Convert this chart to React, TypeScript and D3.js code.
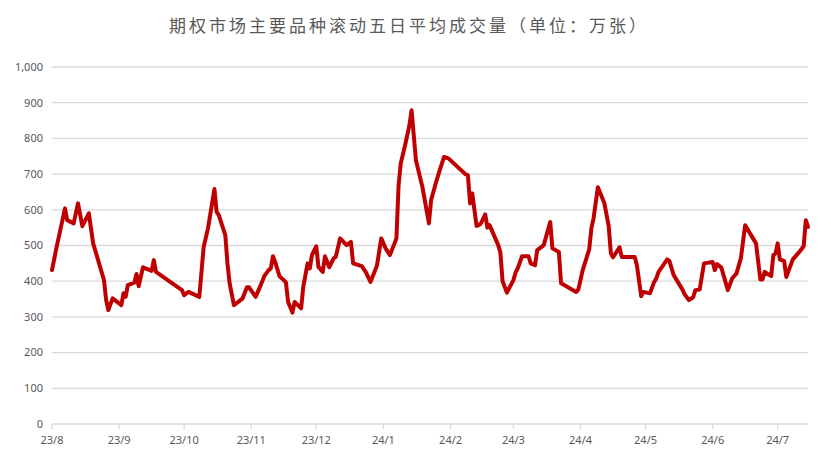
import React from "react";
import * as d3 from "d3";

const title = "期权市场主要品种滚动五日平均成交量（单位：万张）";

const dates: string[] = [
  "2023-08-01","2023-08-03","2023-08-07","2023-08-08","2023-08-11","2023-08-13","2023-08-15","2023-08-18","2023-08-20","2023-08-25",
  "2023-08-26","2023-08-27","2023-08-29","2023-09-02","2023-09-03","2023-09-04","2023-09-05","2023-09-08","2023-09-09","2023-09-10",
  "2023-09-12","2023-09-16","2023-09-17","2023-09-18","2023-09-30","2023-10-01","2023-10-03","2023-10-08","2023-10-10","2023-10-12",
  "2023-10-15","2023-10-16","2023-10-17","2023-10-20","2023-10-21","2023-10-22","2023-10-24","2023-10-26","2023-10-28","2023-10-30",
  "2023-10-31","2023-11-03","2023-11-05","2023-11-07","2023-11-09","2023-11-10","2023-11-11","2023-11-12","2023-11-14","2023-11-16",
  "2023-11-17","2023-11-18","2023-11-20","2023-11-21","2023-11-24","2023-11-25","2023-11-27","2023-11-28","2023-11-29","2023-12-01",
  "2023-12-02","2023-12-04","2023-12-05","2023-12-07","2023-12-09","2023-12-10","2023-12-12","2023-12-15","2023-12-17","2023-12-18",
  "2023-12-22","2023-12-24","2023-12-26","2023-12-29","2023-12-31","2024-01-02","2024-01-04","2024-01-07","2024-01-08","2024-01-09",
  "2024-01-11","2024-01-13","2024-01-14","2024-01-15","2024-01-16","2024-01-19","2024-01-22","2024-01-23","2024-01-25","2024-01-27",
  "2024-01-29","2024-01-31","2024-02-08","2024-02-09","2024-02-10","2024-02-11","2024-02-13","2024-02-14","2024-02-15","2024-02-17",
  "2024-02-18","2024-02-19","2024-02-21","2024-02-23","2024-02-24","2024-02-25","2024-02-27","2024-03-01","2024-03-02","2024-03-03",
  "2024-03-05","2024-03-08","2024-03-09","2024-03-11","2024-03-12","2024-03-14","2024-03-15","2024-03-18","2024-03-19","2024-03-22",
  "2024-03-23","2024-03-30","2024-03-31","2024-04-02","2024-04-05","2024-04-06","2024-04-07","2024-04-09","2024-04-12","2024-04-14",
  "2024-04-15","2024-04-16","2024-04-19","2024-04-20","2024-04-26","2024-04-27","2024-04-29","2024-04-30","2024-05-03","2024-05-05",
  "2024-05-06","2024-05-07","2024-05-11","2024-05-12","2024-05-14","2024-05-18","2024-05-19","2024-05-21","2024-05-23","2024-05-24",
  "2024-05-26","2024-05-28","2024-06-01","2024-06-02","2024-06-03","2024-06-05","2024-06-08","2024-06-10","2024-06-12","2024-06-14",
  "2024-06-16","2024-06-21","2024-06-23","2024-06-24","2024-06-25","2024-06-28","2024-06-29","2024-06-30","2024-07-01","2024-07-02",
  "2024-07-04","2024-07-05","2024-07-08","2024-07-11","2024-07-13","2024-07-14","2024-07-15"
];

const values: number[] = [
  431,492,604,571,562,618,554,590,506,403,
  347,319,352,333,366,356,389,396,420,386,
  439,429,459,426,375,361,370,356,495,548,
  658,594,585,529,450,394,333,342,352,383,
  383,356,384,414,431,436,470,454,414,403,
  396,342,312,342,324,384,450,436,473,498,
  440,426,470,439,464,468,520,501,510,450,
  442,424,398,443,520,492,473,520,669,730,
  781,837,879,809,739,664,562,627,671,711,
  748,744,699,697,618,646,555,557,562,587,
  550,557,529,501,480,400,368,403,424,436,
  470,470,450,445,487,496,501,566,492,482,
  394,370,377,431,489,548,576,663,618,554,
  478,467,495,468,468,445,358,370,366,398,
  408,426,461,457,417,377,364,347,355,375,
  377,450,454,431,448,438,375,408,422,464,
  557,506,405,405,426,414,473,478,506,461,
  456,412,461,482,498,571,552
];

const yTicks: number[] = [0, 100, 200, 300, 400, 500, 600, 700, 800, 900, 1000];
const xTickDates: string[] = [
  "2023-08-01","2023-09-01","2023-10-01","2023-11-01","2023-12-01","2024-01-01",
  "2024-02-01","2024-03-01","2024-04-01","2024-05-01","2024-06-01","2024-07-01"
];
const xTickLabels: string[] = ["23/8","23/9","23/10","23/11","23/12","24/1","24/2","24/3","24/4","24/5","24/6","24/7"];
const xDomain: string[] = ["2023-08-01", "2024-07-15"];

export default function App() {
  const W = 831, H = 459;
  const parse = d3.timeParse("%Y-%m-%d");
  const x = d3.scaleTime()
    .domain([parse(xDomain[0]) as Date, parse(xDomain[1]) as Date])
    .range([52, 808]);
  const y = d3.scaleLinear().domain([0, 1000]).range([424, 67]);
  const pts = dates.map((d, i) => [x(parse(d) as Date), y(values[i])] as [number, number]);
  const path = d3.line()(pts) || "";
  const fmt = d3.format(",");
  const labelFont = "'Noto Sans', 'DejaVu Sans', sans-serif";

  return (
    <svg width={W} height={H} style={{ position: "absolute", left: 0, top: 0, background: "#fff" }}>
      <rect x={0} y={0} width={W} height={H} fill="#fff" />
      <text x={409} y={32} textAnchor="middle" fontFamily="'Noto Sans CJK SC', sans-serif" fontSize={17}
        letterSpacing={3} fill="#595959">{title}</text>
      {yTicks.map((t) => (
        <g key={t}>
          {t > 0 && <line x1={52} x2={808} y1={y(t)} y2={y(t)} stroke="#d9d9d9" strokeWidth={1.3} />}
          <text x={43} y={y(t)} dy="0.35em" textAnchor="end" fontFamily={labelFont} fontSize={11} fill="#595959">{fmt(t)}</text>
        </g>
      ))}
      <line x1={52} x2={808} y1={y(0)} y2={y(0)} stroke="#d9d9d9" strokeWidth={1.3} />
      {xTickDates.map((d, i) => {
        const xx = x(parse(d) as Date);
        return (
          <g key={d}>
            <line x1={xx} x2={xx} y1={y(0)} y2={y(0) + 5} stroke="#d9d9d9" strokeWidth={1.3} />
            <text x={xx} y={444} textAnchor="middle" fontFamily={labelFont} fontSize={11} fill="#595959">{xTickLabels[i]}</text>
          </g>
        );
      })}
      <path d={path} fill="none" stroke="#c00000" strokeWidth={4} strokeLinejoin="round" strokeLinecap="round" />
    </svg>
  );
}
